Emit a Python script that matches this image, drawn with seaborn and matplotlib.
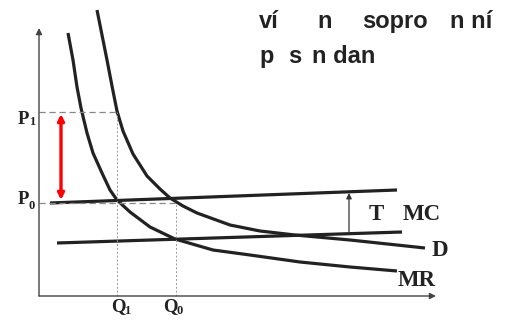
import numpy as np
import pandas as pd
import matplotlib
matplotlib.use("Agg")
import matplotlib.pyplot as plt
import seaborn as sns

# Curve points (quantity, price)
mr_q = [29, 34, 38, 42, 48, 54, 63, 71, 78, 91, 111, 136, 174, 211, 261, 311, 358]
mr_p = [263, 236, 209, 188, 163, 143, 123, 106, 96, 84, 69, 57, 46, 41, 34, 29, 25]

d_q = [58, 63, 68, 73, 78, 84, 94, 108, 121, 131, 144, 158, 191, 221, 256, 311, 386]
d_p = [286, 261, 236, 210, 185, 165, 142, 120, 107, 98, 90, 83, 71, 65, 61, 56, 48]

# Marginal cost with and without the tax
tmc_q = [11, 358]
tmc_p = [93, 106]
mc_q = [18, 363]
mc_p = [53, 64]

# Equilibrium levels
q1, q0 = 78, 137
p1, p0 = 184, 93

title_line1 = ["ví", "n", "sopro", "n ní"]
title_line2 = ["p", "s", "n dan"]

sns.set_theme(style="white")
serif = ["Liberation Serif", "DejaVu Serif"]
sans = ["Liberation Sans", "DejaVu Sans"]

fig = plt.figure(figsize=(5.2, 3.22), dpi=100)
ax = fig.add_axes([0, 0, 1, 1])
ax.set_xlim(-39, 481)
ax.set_ylim(-26, 296)
ax.axis("off")

ink = "#222222"
curve_lw = 2.3

df_mr = pd.DataFrame({"q": mr_q, "p": mr_p})
df_d = pd.DataFrame({"q": d_q, "p": d_p})
df_tmc = pd.DataFrame({"q": tmc_q, "p": tmc_p})
df_mc = pd.DataFrame({"q": mc_q, "p": mc_p})
for df in (df_mr, df_d, df_tmc, df_mc):
    sns.lineplot(data=df, x="q", y="p", ax=ax, sort=False, estimator=None,
                 color=ink, linewidth=curve_lw, solid_capstyle="butt",
                 solid_joinstyle="round")

# Axes with arrow heads
axis_col = "#444444"
ax.annotate("", xy=(397, 0), xytext=(0, 0),
            arrowprops=dict(arrowstyle="-|>", color=axis_col, lw=1.0,
                            mutation_scale=9, shrinkA=0, shrinkB=0))
ax.annotate("", xy=(0, 268), xytext=(0, 0),
            arrowprops=dict(arrowstyle="-|>", color=axis_col, lw=1.0,
                            mutation_scale=9, shrinkA=0, shrinkB=0))

# Guide lines
ax.plot([0, q1], [p1, p1], color="#888888", lw=0.9, ls=(0, (5, 3)))
ax.plot([0, q0], [p0, p0], color="#888888", lw=0.9, ls=(0, (5, 3)))
ax.plot([q1, q1], [0, p1], color="#999999", lw=0.7, ls=(0, (2, 2)))
ax.plot([q0, q0], [0, p0], color="#999999", lw=0.7, ls=(0, (2, 2)))

# Price increase (red) and tax wedge (black)
ax.annotate("", xy=(22, p1 - 2), xytext=(22, p0 + 3),
            arrowprops=dict(arrowstyle="<|-|>", color="#ff0000", lw=2.4,
                            mutation_scale=9, shrinkA=0, shrinkB=0))
ax.annotate("", xy=(310, 103), xytext=(310, 64),
            arrowprops=dict(arrowstyle="-|>", color="#333333", lw=0.9,
                            mutation_scale=8, shrinkA=0, shrinkB=0))

# Axis labels with subscripts
lab = dict(fontfamily=serif, fontweight="bold", color=ink)
ax.text(-16, 177, "P", fontsize=13.5, ha="center", va="center", **lab)
ax.text(-7, 174, "1", fontsize=9, ha="center", va="center", **lab)
ax.text(-16, 97, "P", fontsize=13.5, ha="center", va="center", **lab)
ax.text(-7, 90, "0", fontsize=9, ha="center", va="center", **lab)
ax.text(79, -11, "Q", fontsize=13.5, ha="center", va="center", **lab)
ax.text(88, -15, "1", fontsize=9, ha="center", va="center", **lab)
ax.text(131, -11, "Q", fontsize=13.5, ha="center", va="center", **lab)
ax.text(141, -15, "0", fontsize=9, ha="center", va="center", **lab)

# Curve labels
ax.text(337, 81, "T", fontsize=16.5, ha="center", va="center", **lab)
ax.text(383, 81, "MC", fontsize=16.5, ha="center", va="center", **lab)
ax.text(401, 46, "D", fontsize=16.5, ha="center", va="center", **lab)
ax.text(378, 16, "MR", fontsize=16.5, ha="center", va="center", **lab)

# Title
tt = dict(fontfamily=sans, fontweight="bold", fontsize=17, color=ink,
          ha="left", va="baseline")
for x, s in zip([220, 278, 323, 411], title_line1):
    ax.text(x, 268, s, **tt)
for x, s in zip([220, 249, 273], title_line2):
    ax.text(x, 233, s, **tt)

fig.savefig("out.png", dpi=100)
